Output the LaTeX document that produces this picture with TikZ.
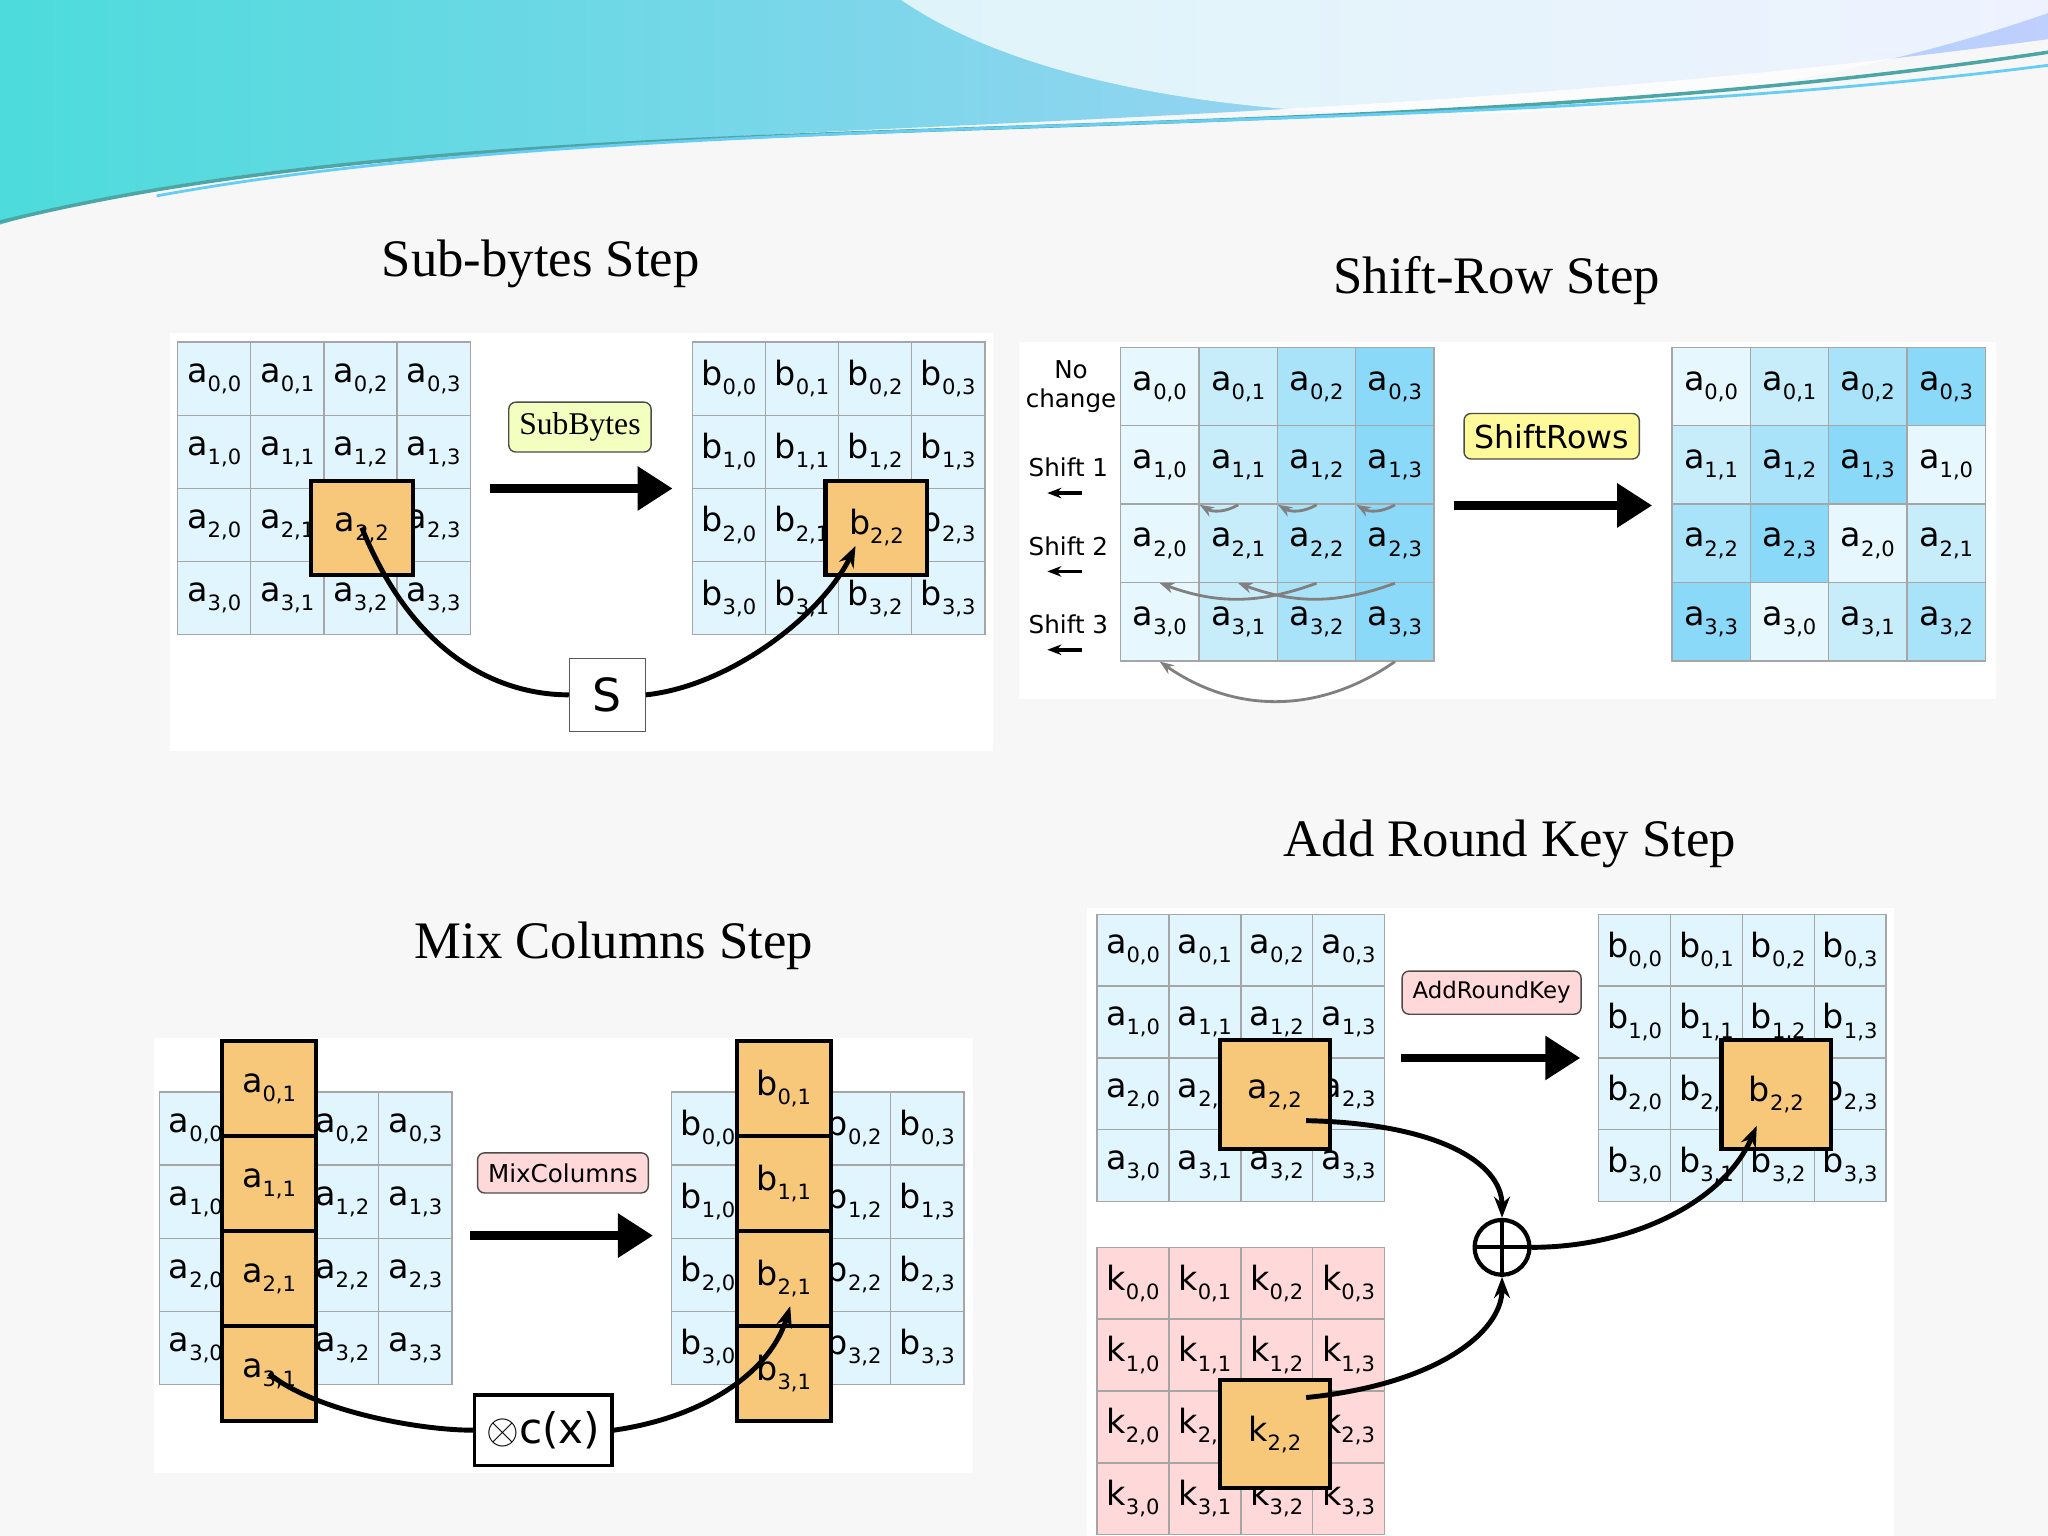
\documentclass[tikz,border=0pt]{standalone}
\usepackage{fontspec}
\setmainfont{Liberation Serif}
\newfontfamily\cellfont{DejaVu Sans}
\usetikzlibrary{arrows.meta}
\def\u{0.013061cm}
\definecolor{hotc}{RGB}{247,200,122}
\newcommand\lbl[2]{\cellfont #1\raisebox{-0.5ex}{\fontsize{6}{7}\selectfont #2}}
\tikzset{
 cell/.style={draw=gray!70, inner sep=0pt, font=\fontsize{9.5}{11}\selectfont},
 hot/.style={draw=black, line width=1.2pt, fill=hotc, inner sep=0pt, font=\fontsize{9.5}{11}\selectfont},
 tag/.style={draw=gray!60!black, rounded corners=2pt, inner sep=3pt, font=\fontsize{7.5}{9}\selectfont},
 title/.style={font=\fontsize{15}{18}\selectfont},
 bigarrow/.style={line width=2.5pt, -{Triangle[length=10pt,width=12pt]}},
 curve/.style={line width=1.4pt, -{Stealth[length=6pt]}},
 gcurve/.style={gray, line width=0.8pt, -{Stealth[length=4pt]}},
 side/.style={font=\cellfont\fontsize{7}{8}\selectfont, align=center}
}
\colorlet{lb}{cyan!12!white}
\colorlet{pk}{red!15!white}
\newcommand\cellgrid[6]{%
 \foreach \r in {0,...,3}{\foreach \c in {0,...,3}{
   \node[cell, minimum size={#4*\u}, fill=#6] (#1\r\c) at ({#2+(\c+0.5)*#4},{#3+(\r+0.5)*#4}) {\lbl{#5}{\r,\c}};}}}
\begin{document}
\begin{tikzpicture}[x=\u,y=-\u]
\useasboundingbox (0,0) rectangle (1568,1176);
\fill[gray!6] (0,0) rectangle (1568,1176);
% top wave
\shade[left color=cyan!60!teal!70, right color=cyan!25!blue!25] (0,0)--(0,172) .. controls (300,80) and (900,120) .. (1568,30) -- (1568,0) -- cycle;
\fill[white,opacity=0.75] (690,0) .. controls (850,110) and (1250,120) .. (1568,10) -- (1568,0) -- cycle;
\draw[teal!70, line width=1pt] (0,170) .. controls (400,70) and (1000,125) .. (1568,40);
\draw[cyan!60, line width=0.8pt] (120,150) .. controls (500,80) and (1100,110) .. (1568,50);
% panels
\fill[white] (130,255) rectangle (760,575);
\fill[white] (780,262) rectangle (1528,535);
\fill[white] (118,795) rectangle (745,1128);
\fill[white] (832,695) rectangle (1450,1176);
% titles
\node[title] (t1) at (414,202) {Sub-bytes Step};
\node[title] (t2) at (1146,215) {Shift-Row Step};
\node[title] (t3) at (470,724) {Mix Columns Step};
\node[title] (t4) at (1156,646) {Add Round Key Step};
% ===== Sub-bytes
\cellgrid{sa}{136}{262}{56}{a}{lb}
\cellgrid{sb}{530}{262}{56}{b}{lb}
\node[hot, minimum width={78*\u}, minimum height={72*\u}] (sa22) at (277,404) {\lbl{a}{2,2}};
\node[hot, minimum width={78*\u}, minimum height={72*\u}] (sb22) at (671,404) {\lbl{b}{2,2}};
\node[tag, fill=green!20!yellow!25, font=\fontsize{9}{10}\selectfont] (subb) at (444,327) {SubBytes};
\draw[bigarrow] (375,374) -- (515,374);
\node[draw=gray!70!black, fill=white, minimum width={58*\u}, minimum height={56*\u}, font=\cellfont\fontsize{13}{14}\selectfont] (S) at (465,532) {S};
\draw[line width=1.4pt] (sa22.center) .. controls (320,510) and (390,532) .. (S.west);
\draw[curve] (S.east) .. controls (560,525) and (630,470) .. (655,418);
% ===== Shift rows
\foreach \r in {0,...,3}{\foreach \c in {0,...,3}{
  \pgfmathsetmacro\sh{10+12*\c}
  \node[cell, minimum size={60*\u}, fill=cyan!\sh!white] (ra\r\c) at ({858+(\c+0.5)*60},{266+(\r+0.5)*60}) {\lbl{a}{\r,\c}};
  \pgfmathtruncatemacro\oc{mod(\c+\r,4)}
  \pgfmathsetmacro\shb{10+12*\oc}
  \node[cell, minimum size={60*\u}, fill=cyan!\shb!white] (rb\r\c) at ({1280+(\c+0.5)*60},{266+(\r+0.5)*60}) {\lbl{a}{\r,\oc}};
}}
\node[side] (nc) at (820,296) {No\\change};
\node[side] (s1) at (818,358) {Shift 1};
\node[side] (s2) at (818,418) {Shift 2};
\node[side] (s3) at (818,478) {Shift 3};
\foreach \n in {s1,s2,s3}{\draw[-{Stealth[length=4pt]}, line width=1pt] ([xshift=4pt,yshift=-1pt]\n.south) -- ([xshift=-6pt,yshift=-1pt]\n.south);}
\draw[gcurve] (ra11.south) to[bend left=30] (ra10.south east);
\draw[gcurve] (ra12.south) to[bend left=30] (ra11.south east);
\draw[gcurve] (ra13.south) to[bend left=30] (ra12.south east);
\draw[gcurve] (ra22.south) to[bend left=20] (ra20.south);
\draw[gcurve] (ra23.south) to[bend left=20] (ra21.south);
\draw[gcurve] (ra33.south) to[bend left=35] (ra30.south);
\node[tag, fill=yellow!40, font=\cellfont\fontsize{9}{11}\selectfont] (shr) at (1188,334) {ShiftRows};
\draw[bigarrow] (1113,387) -- (1265,387);
% ===== Mix columns
\cellgrid{ma}{122}{836}{56}{a}{lb}
\cellgrid{mb}{514}{836}{56}{b}{lb}
\foreach \r in {0,...,3}{
  \node[hot, minimum width={72*\u}, minimum height={72.75*\u}] (mac\r) at (206,{797+(\r+0.5)*72.75}) {\lbl{a}{\r,1}};
  \node[hot, minimum width={72*\u}, minimum height={72.75*\u}] (mbc\r) at (600,{797+(\r+0.5)*72.75}) {\lbl{b}{\r,1}};}
\node[tag, fill=pk, font=\cellfont\fontsize{7}{9}\selectfont] (mixc) at (431,898) {MixColumns};
\draw[bigarrow] (360,946) -- (500,946);
\node[draw=black, line width=1pt, fill=white, minimum width={96*\u}, minimum height={54*\u}, font=\cellfont\fontsize{12}{14}\selectfont] (cx) at (416,1095) {$\otimes$c(x)};
\draw[line width=1.4pt] (mac3.center) .. controls (240,1080) and (320,1095) .. (cx.west);
\draw[curve] (cx.east) .. controls (540,1085) and (590,1050) .. (605,1000);
% ===== Add round key
\cellgrid{ka}{840}{700}{55}{a}{lb}
\cellgrid{kb}{1224}{700}{55}{b}{lb}
\cellgrid{kk}{840}{955}{55}{k}{pk}
\node[hot, minimum width={84*\u}, minimum height={83*\u}] (ka22) at (976,838) {\lbl{a}{2,2}};
\node[hot, minimum width={84*\u}, minimum height={83*\u}] (kb22) at (1360,838) {\lbl{b}{2,2}};
\node[hot, minimum width={84*\u}, minimum height={83*\u}] (kk22) at (976,1098) {\lbl{k}{2,2}};
\node[tag, fill=pk, font=\cellfont\fontsize{6.5}{8}\selectfont] (ark) at (1142,760) {AddRoundKey};
\draw[bigarrow] (1073,810) -- (1210,810);
\node[circle, draw=black, line width=1.2pt, minimum size={42*\u}, inner sep=0pt] (xr) at (1150,955) {};
\draw[line width=1.2pt] (xr.north) -- (xr.south) (xr.west) -- (xr.east);
\draw[curve] (1000,858) .. controls (1100,860) and (1150,890) .. (xr.north);
\draw[curve] (1000,1070) .. controls (1100,1060) and (1150,1020) .. (xr.south);
\draw[curve] (xr.east) .. controls (1250,955) and (1320,920) .. (1345,862);
\end{tikzpicture}
\end{document}
